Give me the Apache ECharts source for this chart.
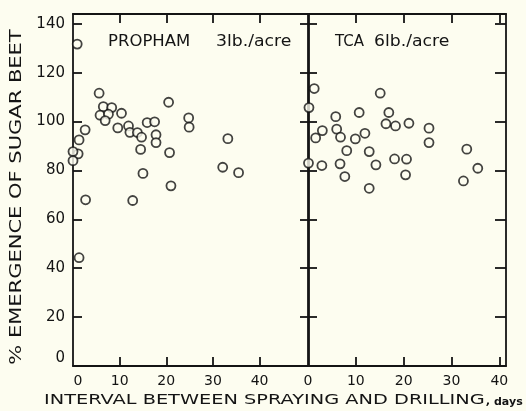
<!DOCTYPE html>
<html><head><meta charset="utf-8">
<script src="https://cdn.jsdelivr.net/npm/echarts@6/dist/echarts.min.js"></script>
<style>html,body{margin:0;padding:0;background:#fdfdf0;}#c{width:526px;height:411px;}</style>
</head><body><div id="c"></div>
<script>
// Data
var prophamDays  = [0.9,5.6,6.5,8.3,5.8,7.6,6.9,10.4,9.6,11.9,12.2,13.8,14.7,14.5,15.9,17.5,17.8,17.8,20.5,20.7,24.8,24.9,33.2,32.1,35.5,15.0,21.0,2.6,1.3,1.1,0,0,2.7,12.8,1.3];
var prophamEmerg = [131.7,111.6,106.1,105.7,102.6,103,100.4,103.4,97.4,98.2,95.6,95.5,93.6,88.6,99.6,99.9,94.6,91.4,107.9,87.3,101.5,97.7,93.0,81.3,79.1,78.8,73.7,96.6,92.5,86.8,87.7,84.0,68.0,67.7,44.3];
var tcaDays  = [1.3,0.2,3.0,1.6,5.8,6.0,6.8,8.1,9.9,10.7,11.9,12.8,15.1,16.9,16.3,18.3,21.1,25.3,25.3,18.1,20.6,14.2,6.7,2.9,0.1,7.7,20.4,12.8,33.2,35.5,32.5];
var tcaEmerg = [113.5,105.7,96.3,93.3,102.0,96.9,93.6,88.1,92.9,103.7,95.2,87.7,111.6,103.7,99.1,98.2,99.3,97.3,91.4,84.7,84.6,82.3,82.7,82.0,83.0,77.5,78.2,72.7,88.7,80.9,75.7];
var xTickLabels = [0,10,20,30,40];
var yTickLabels = [0,20,40,60,80,100,120,140];

var BG = '#fdfdf0', INK = '#141414', FONT = 'DejaVu Sans';
function pairs(a,b){return a.map(function(v,i){return [v,b[i]];});}
var lineStyle = {color: INK, width: 1.8};
function xAx(gi, max, pos, labels){
  return {type:'value', gridIndex:gi, position:pos, min:0, max:max, interval:10,
    axisLine:{show:true, onZero:false, lineStyle:lineStyle},
    axisTick:{show:true, inside:true, length:9, lineStyle:lineStyle, customValues:[10,20,30,40]},
    axisLabel:{show:labels, margin:8, color:INK, fontFamily:FONT, fontSize:14, customValues:xTickLabels,
      formatter:function(v){return v===0 && gi===0 ? '{z|0}' : String(v);},
      rich:{z:{padding:[0,0,0,10], color:INK, fontFamily:FONT, fontSize:14}}},
    splitLine:{show:false}};
}
function yAx(gi, pos, labels, len){
  return {type:'value', gridIndex:gi, position:pos, min:0, max:144, interval:20,
    axisLine:{show:true, onZero:false, lineStyle:lineStyle},
    axisTick:{show:true, inside:true, length:len, lineStyle:lineStyle, customValues:[20,40,60,80,100,120,140]},
    axisLabel:{show:labels, margin:8, color:INK, fontFamily:FONT, fontSize:15, customValues:yTickLabels,
      formatter:function(v){return v===0 ? '{z|0}' : String(v);},
      rich:{z:{padding:[0,0,16,0], color:INK, fontFamily:FONT, fontSize:15}}},
    splitLine:{show:false}};
}
var sym = {symbol:'circle', symbolSize:9, itemStyle:{color:BG, borderColor:INK, borderWidth:1.8}};
var chart = echarts.init(document.getElementById('c'), null, {renderer:'canvas'});
chart.setOption({
  backgroundColor: BG,
  animation:false,
  grid:[{left:73, top:14, width:236, height:352},{left:308, top:14, width:198, height:352}],
  xAxis:[xAx(0,50.6,'bottom',true), xAx(0,50.6,'top',false), xAx(1,41.4,'bottom',true), xAx(1,41.4,'top',false)],
  yAxis:[yAx(0,'left',true,9), yAx(0,'right',false,9), yAx(1,'left',false,9), yAx(1,'right',false,11)],
  series:[
    Object.assign({type:'scatter', xAxisIndex:0, yAxisIndex:0, clip:false, data:pairs(prophamDays,prophamEmerg)}, sym),
    Object.assign({type:'scatter', xAxisIndex:2, yAxisIndex:2, clip:false, data:pairs(tcaDays,tcaEmerg)}, sym)
  ],
  graphic:[
    {type:'text', x:108, y:42, scaleX:1.1, style:{text:'PROPHAM', fill:INK, font:'15px '+FONT, textVerticalAlign:'middle'}},
    {type:'text', x:216, y:42, scaleX:1.15, style:{text:'3lb./acre', fill:INK, font:'15px '+FONT, textVerticalAlign:'middle'}},
    {type:'text', x:335, y:42, scaleX:1.0, style:{text:'TCA', fill:INK, font:'15px '+FONT, textVerticalAlign:'middle'}},
    {type:'text', x:374, y:42, scaleX:1.15, style:{text:'6lb./acre', fill:INK, font:'15px '+FONT, textVerticalAlign:'middle'}},
    {type:'text', x:44, y:400, scaleX:1.38, style:{text:'INTERVAL BETWEEN SPRAYING AND DRILLING,', fill:INK, font:'14px '+FONT, textVerticalAlign:'middle'}},
    {type:'text', x:494, y:402, style:{text:'days', fill:INK, font:'bold 11px '+FONT, textVerticalAlign:'middle'}},
    {type:'text', x:17, y:197, rotation:Math.PI/2, scaleX:1.4, style:{text:'% EMERGENCE OF SUGAR BEET', fill:INK, font:'15px '+FONT, textAlign:'center', textVerticalAlign:'middle'}}
  ]
});
</script></body></html>
